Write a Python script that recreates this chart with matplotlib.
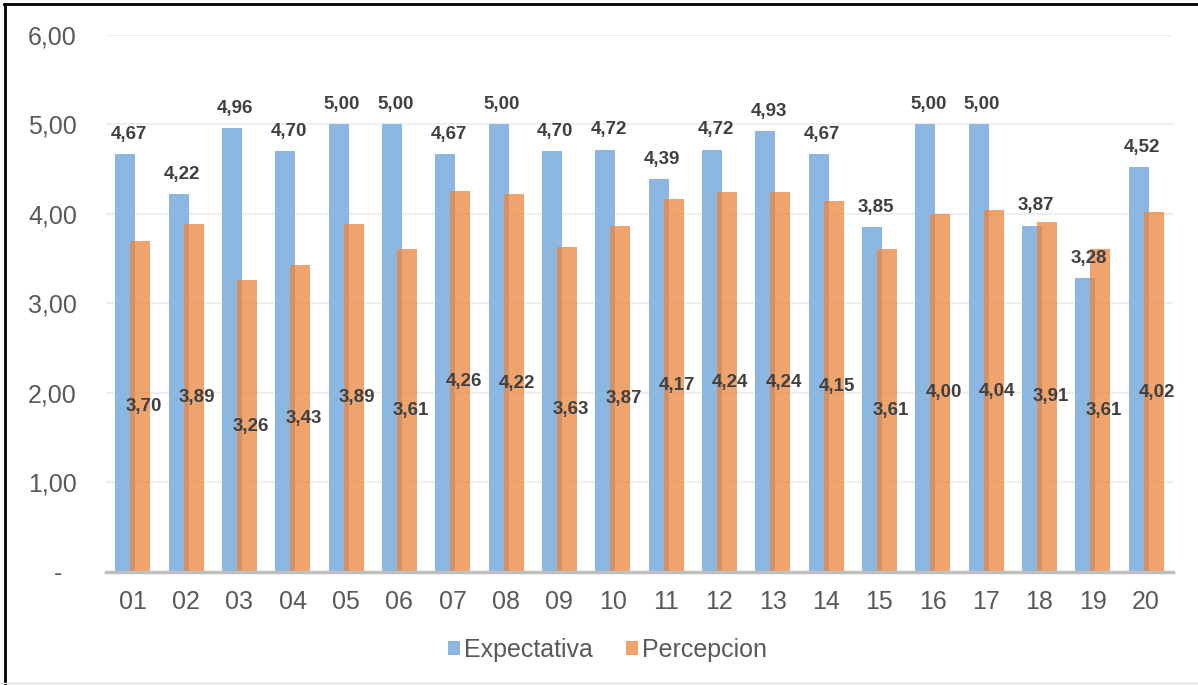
import matplotlib
matplotlib.use("Agg")
import matplotlib.pyplot as plt
from matplotlib.lines import Line2D
import numpy as np

plt.rcParams['font.family'] = ['Liberation Sans', 'DejaVu Sans']

categories = ["01", "02", "03", "04", "05", "06", "07", "08", "09", "10",
              "11", "12", "13", "14", "15", "16", "17", "18", "19", "20"]
expectativa = [4.67, 4.22, 4.96, 4.70, 5.00, 5.00, 4.67, 5.00, 4.70, 4.72,
               4.39, 4.72, 4.93, 4.67, 3.85, 5.00, 5.00, 3.87, 3.28, 4.52]
percepcion = [3.70, 3.89, 3.26, 3.43, 3.89, 3.61, 4.26, 4.22, 3.63, 3.87,
              4.17, 4.24, 4.24, 4.15, 3.61, 4.00, 4.04, 3.91, 3.61, 4.02]
y_ticks = [0, 1, 2, 3, 4, 5, 6]

BLUE = "#8CB7E1"
ORANGE = "#EC863C"
LABEL_COLOR = "#404040"
TICK_COLOR = "#595959"

fig = plt.figure(figsize=(11.98, 6.85), dpi=100)
ax = fig.add_axes([0.0885, 0.165, 0.8905, 0.784])

x = np.arange(len(categories))
w = 0.375
off = 0.14

b1 = ax.bar(x - off, expectativa, w, color=BLUE, zorder=2, label="Expectativa")
b2 = ax.bar(x + off, percepcion, w, color=ORANGE, alpha=0.75, zorder=3,
            label="Percepcion")

def fmt(v):
    return f"{v:.2f}".replace(".", ",")

for xi, v in zip(x, expectativa):
    ax.annotate(fmt(v), (xi - off, v), xytext=(2.5, 8), textcoords="offset points",
                ha="center", va="bottom", fontsize=13.5, fontweight="bold",
                color=LABEL_COLOR, zorder=5)
for xi, v in zip(x, percepcion):
    ax.annotate(fmt(v), (xi + off, v / 2), xytext=(2.5, 0), textcoords="offset points",
                ha="center", va="center", fontsize=13.5, fontweight="bold",
                color=LABEL_COLOR, zorder=5)

ax.set_xlim(-0.5, len(categories) - 0.5)
ax.set_ylim(0, 6)
ax.set_yticks(y_ticks)
ax.set_yticklabels(["-  " if t == 0 else fmt(t) for t in y_ticks])
ax.set_xticks(x)
ax.set_xticklabels(categories)
ax.tick_params(axis="y", length=0, pad=21, labelsize=18, labelcolor=TICK_COLOR)
ax.tick_params(axis="x", length=0, pad=13, labelsize=18, labelcolor=TICK_COLOR)

ax.grid(axis="y", color="#EEEEEE", linewidth=1.6, zorder=0)
ax.set_axisbelow(True)
for s in ["left", "right", "top"]:
    ax.spines[s].set_visible(False)
ax.spines["bottom"].set_color("#BFBFBF")
ax.spines["bottom"].set_linewidth(2.5)
ax.spines["bottom"].set_zorder(4)

fig.legend(handles=[b1, b2], labels=["Expectativa", "Percepcion"],
           loc="center", bbox_to_anchor=(0.507, 0.051), ncol=2, frameon=False,
           fontsize=18, handlelength=0.5, handleheight=0.5, handletextpad=0.15,
           columnspacing=1.3, labelcolor=TICK_COLOR)

# outer frame: dark top/left edges, faint bottom edge
fig.add_artist(Line2D([0.0045, 0.0045], [0.0, 0.9935], transform=fig.transFigure,
                      color="black", linewidth=2.0))
fig.add_artist(Line2D([0.0035, 1.0], [0.9935, 0.9935], transform=fig.transFigure,
                      color="black", linewidth=2.0))
fig.add_artist(Line2D([0.0, 1.0], [0.003, 0.003], transform=fig.transFigure,
                      color="#DDDDDD", linewidth=1.0))

fig.savefig("out.png", dpi=100)
